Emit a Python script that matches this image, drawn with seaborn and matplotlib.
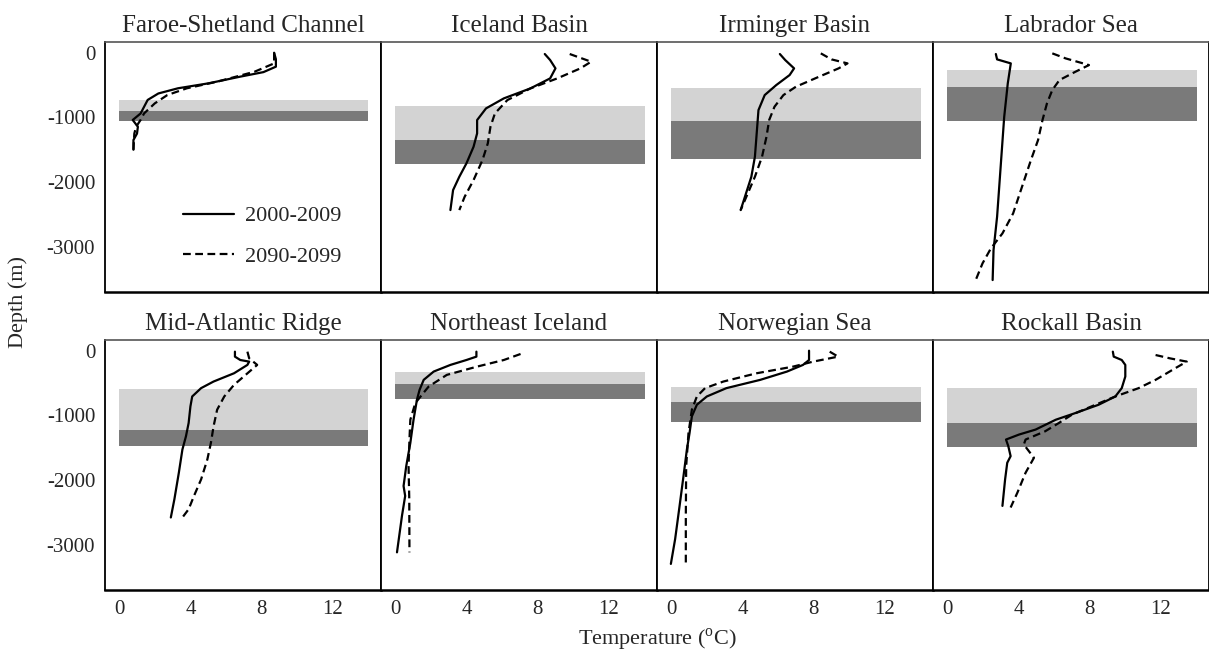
import numpy as np
import pandas as pd
import matplotlib
matplotlib.use("Agg")
import matplotlib.pyplot as plt
import seaborn as sns
from matplotlib.lines import Line2D

# ---------------- data ----------------
regions = ["Faroe-Shetland Channel", "Iceland Basin", "Irminger Basin", "Labrador Sea",
           "Mid-Atlantic Ridge", "Northeast Iceland", "Norwegian Sea", "Rockall Basin"]
periods = ["2000-2009", "2090-2099"]

# shaded depth bands (light: top->split, dark: split->bottom), metres
band_top = [-730, -820, -550, -265, -600, -335, -565, -575]
band_split = [-900, -1350, -1060, -535, -1220, -515, -800, -1120]
band_bottom = [-1050, -1720, -1640, -1050, -1480, -750, -1100, -1490]
band_temp_range = [0, 14]

# Faroe-Shetland Channel
fsc_depth_now = [0, -100, -216, -300, -370, -474, -550, -630, -730, -835, -940, -1040, -1145, -1250, -1350, -1500]
fsc_temp_now = [8.7, 8.8, 8.8, 8.1, 6.8, 5.0, 3.3, 2.2, 1.6, 1.4, 1.2, 0.76, 1.05, 1.0, 0.8, 0.8]
fsc_depth_fut = [0, -165, -294, -448, -550, -655, -783, -938, -1040, -1145, -1250, -1500]
fsc_temp_fut = [8.7, 8.7, 7.6, 5.5, 3.8, 2.7, 2.0, 1.4, 1.2, 0.95, 0.85, 0.8]

# Iceland Basin
ib_depth_now = [-20, -113, -242, -397, -551, -706, -861, -1041, -1247, -1454, -1711, -1918, -2124, -2433]
ib_temp_now = [8.4, 8.7, 9.0, 8.7, 7.6, 6.1, 5.1, 4.6, 4.6, 4.4, 4.0, 3.6, 3.25, 3.1]
ib_depth_fut = [-20, -139, -242, -397, -551, -732, -938, -1144, -1402, -1660, -1969, -2227, -2433]
ib_temp_fut = [9.8, 11.0, 10.4, 9.1, 7.6, 6.3, 5.6, 5.35, 5.2, 4.9, 4.4, 3.9, 3.6]

# Irminger Basin
irm_depth_now = [-20, -113, -242, -345, -500, -655, -887, -1247, -1608, -1918, -2175, -2433]
irm_temp_now = [6.1, 6.4, 6.9, 6.65, 5.9, 5.25, 4.9, 4.8, 4.7, 4.5, 4.2, 3.9]
irm_depth_fut = [-10, -103, -165, -242, -371, -526, -655, -835, -1041, -1299, -1608, -1918, -2175, -2433]
irm_temp_fut = [8.4, 9.0, 9.9, 9.4, 8.3, 7.0, 6.3, 5.8, 5.5, 5.35, 5.1, 4.7, 4.3, 3.9]

# Labrador Sea
lab_depth_now = [-20, -103, -165, -474, -990, -1763, -2536, -3052, -3515]
lab_temp_now = [2.73, 2.8, 3.57, 3.4, 3.2, 3.0, 2.8, 2.6, 2.55]
lab_depth_fut = [-10, -88, -191, -294, -423, -577, -784, -1041, -1351, -1660, -2072, -2485, -2794, -3026, -3258, -3515]
lab_temp_fut = [5.9, 6.65, 7.96, 7.2, 6.3, 5.9, 5.6, 5.35, 5.1, 4.7, 4.2, 3.7, 3.1, 2.45, 1.98, 1.6]

# Mid-Atlantic Ridge
mar_depth_now = [-15, -92, -144, -169, -220, -349, -477, -579, -708, -862, -1118, -1323, -1528, -1887, -2297, -2579]
mar_temp_now = [6.5, 6.5, 6.8, 7.3, 7.2, 6.45, 5.3, 4.6, 4.1, 4.0, 3.9, 3.75, 3.55, 3.35, 3.1, 2.9]
mar_depth_fut = [-15, -118, -220, -374, -528, -708, -913, -1169, -1426, -1682, -1990, -2246, -2451, -2579]
mar_temp_fut = [7.2, 7.3, 7.75, 7.1, 6.45, 5.9, 5.5, 5.3, 5.15, 4.95, 4.6, 4.2, 3.9, 3.55]

# Northeast Iceland
nei_depth_now = [-15, -92, -144, -220, -323, -451, -605, -759, -1067, -1426, -1785, -2092, -2246, -2554, -3118]
nei_temp_now = [4.56, 4.56, 4.0, 3.1, 2.16, 1.6, 1.37, 1.22, 1.03, 0.85, 0.62, 0.47, 0.56, 0.38, 0.1]
nei_depth_fut = [-51, -144, -246, -374, -554, -682, -810, -1067, -1374, -1785, -2297, -3118]
nei_temp_fut = [7.04, 6.1, 4.6, 2.9, 1.88, 1.5, 1.13, 0.85, 0.8, 0.75, 0.79, 0.8]

# Norwegian Sea
nor_depth_now = [0, -144, -220, -323, -451, -579, -708, -836, -1015, -1272, -1528, -1938, -2400, -2913, -3297]
nor_temp_now = [7.74, 7.74, 7.4, 6.5, 5.0, 3.1, 2.0, 1.44, 1.16, 1.03, 0.88, 0.69, 0.47, 0.22, -0.02]
nor_depth_fut = [-15, -92, -118, -169, -246, -349, -477, -579, -708, -913, -1272, -1785, -2554, -3297]
nor_temp_fut = [8.9, 9.37, 8.9, 7.97, 6.85, 4.8, 2.93, 1.9, 1.44, 1.16, 0.97, 0.84, 0.82, 0.82]

# Rockall Basin
rb_depth_now = [-15, -92, -144, -220, -400, -579, -708, -836, -964, -1067, -1220, -1297, -1374, -1477, -1631, -1733, -1990, -2400]
rb_temp_now = [9.3, 9.35, 9.8, 10.0, 10.0, 9.8, 9.44, 8.5, 7.2, 6.1, 4.96, 4.03, 3.3, 3.43, 3.56, 3.37, 3.25, 3.1]
rb_depth_fut = [-67, -118, -169, -272, -451, -579, -708, -862, -990, -1118, -1246, -1374, -1451, -1656, -1887, -2195, -2425]
rb_temp_fut = [11.7, 12.5, 13.45, 12.8, 11.7, 10.75, 9.44, 8.1, 7.0, 6.27, 5.5, 4.4, 4.3, 4.87, 4.4, 3.94, 3.56]

x_ticks = [0, 4, 8, 12]
y_ticks = [0, -1000, -2000, -3000]

profiles = {
    "Faroe-Shetland Channel": ((fsc_temp_now, fsc_depth_now), (fsc_temp_fut, fsc_depth_fut)),
    "Iceland Basin": ((ib_temp_now, ib_depth_now), (ib_temp_fut, ib_depth_fut)),
    "Irminger Basin": ((irm_temp_now, irm_depth_now), (irm_temp_fut, irm_depth_fut)),
    "Labrador Sea": ((lab_temp_now, lab_depth_now), (lab_temp_fut, lab_depth_fut)),
    "Mid-Atlantic Ridge": ((mar_temp_now, mar_depth_now), (mar_temp_fut, mar_depth_fut)),
    "Northeast Iceland": ((nei_temp_now, nei_depth_now), (nei_temp_fut, nei_depth_fut)),
    "Norwegian Sea": ((nor_temp_now, nor_depth_now), (nor_temp_fut, nor_depth_fut)),
    "Rockall Basin": ((rb_temp_now, rb_depth_now), (rb_temp_fut, rb_depth_fut)),
}

rows = []
for reg in regions:
    for per, (t, d) in zip(periods, profiles[reg]):
        for i, (tt, dd) in enumerate(zip(t, d)):
            rows.append({"region": reg, "period": per, "temp": tt, "depth": dd, "idx": i})
df = pd.DataFrame(rows)

# ---------------- style ----------------
sns.set_theme(style="white")
plt.rcParams["font.family"] = ["Liberation Serif", "DejaVu Serif"]
plt.rcParams["mathtext.fontset"] = "custom"
plt.rcParams["mathtext.rm"] = "Liberation Serif"
plt.rcParams["axes.unicode_minus"] = False

dash_style = (3.5, 2)
dashes = {periods[0]: "", periods[1]: dash_style}

fig, axes = plt.subplots(2, 4, figsize=(12.09, 6.57), dpi=100, sharex=True, sharey=True)
fig.subplots_adjust(left=0.0868, right=1.0, top=0.936, bottom=0.102, wspace=0, hspace=0.192)

for k, reg in enumerate(regions):
    ax = axes.flat[k]
    ax.fill_betweenx([band_split[k], band_top[k]], band_temp_range[0], band_temp_range[1],
                     color="#d3d3d3", lw=0, zorder=1)
    ax.fill_betweenx([band_bottom[k], band_split[k]], band_temp_range[0], band_temp_range[1],
                     color="#7a7a7a", lw=0, zorder=1)
    sub = df[df["region"] == reg]
    sns.lineplot(data=sub, x="temp", y="depth", style="period", style_order=periods,
                 dashes=dashes, color="black", lw=1.6, sort=False, estimator=None,
                 legend=False, ax=ax, zorder=3)
    ax.set_title(reg, fontsize=18, pad=7)
    ax.set_xlabel("")
    ax.set_ylabel("")
    ax.set_xlim(-0.8, 14.7)
    ax.set_ylim(-3700, 165)
    ax.set_xticks(x_ticks)
    ax.set_yticks(y_ticks)
    ax.tick_params(direction="out", length=4, width=1, color="#aaaaaa", labelsize=15, pad=3)
    r, c = divmod(k, 4)
    if r == 0:
        ax.tick_params(axis="x", bottom=False, labelbottom=False)
    if c != 0:
        ax.tick_params(axis="y", left=False, labelleft=False)
    for s in ["left", "right"]:
        ax.spines[s].set_linewidth(1.3)
        ax.spines[s].set_color("black")
    ax.spines["top"].set_linewidth(1.2)
    ax.spines["top"].set_color("#555555")
    ax.spines["bottom"].set_linewidth(1.8)
    ax.spines["bottom"].set_color("black")

handles = [Line2D([], [], color="black", lw=1.6),
           Line2D([], [], color="black", lw=1.6, ls=(0, dash_style))]
axes[0, 0].legend(handles, periods, loc="lower right", bbox_to_anchor=(0.93, 0.02),
                  frameon=False, fontsize=16, handlelength=2.3, labelspacing=0.9,
                  handletextpad=0.5)

fig.text(0.015, 0.54, "Depth (m)", rotation=90, ha="center", va="center", fontsize=16)
fig.text(0.544, 0.026, r"Temperature ($^{\mathrm{o}}$C)", ha="center", va="center", fontsize=16)

fig.savefig("out.png", dpi=100)
